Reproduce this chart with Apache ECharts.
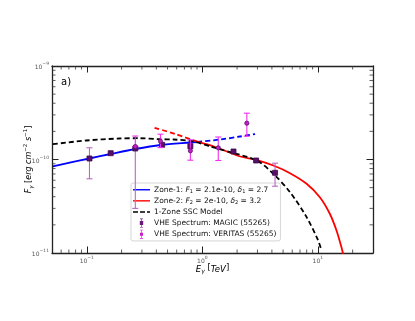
<!DOCTYPE html>
<html>
<head>
<meta charset="utf-8">
<script src="https://cdn.jsdelivr.net/npm/echarts@6/dist/echarts.min.js"></script>
<style>
  html, body { margin: 0; padding: 0; background: #fff; }
  #chart { width: 415px; height: 321px; }
</style>
</head>
<body>
<div id="chart"></div>
<script>
// 曲线数据（E [TeV], F [erg cm^-2 s^-1]）
var zone1Solid = [[0.0509, 8.42e-11], [0.0728, 9.29e-11], [0.1055, 1.025e-10], [0.161, 1.145e-10], [0.263, 1.295e-10],
  [0.434, 1.429e-10], [0.788, 1.52e-10], [0.906, 1.539e-10]]
var zone1Dash = [[0.906, 1.539e-10], [1.43, 1.636e-10], [2.126, 1.762e-10], [2.863, 1.873e-10]]
var zone2Dash = [[0.386, 2.183e-10], [0.585, 1.873e-10], [0.906, 1.55e-10]]
var zone2Solid = [[0.906, 1.55e-10], [1.294, 1.36e-10], [2.126, 1.077e-10], [2.92, 9.93e-11], [4.12, 8.62e-11],
  [5.74, 7.14e-11], [7.99, 5.5e-11], [10.4, 3.95e-11], [12.69, 2.63e-11], [14.5, 1.74e-11], [16.0, 1.15e-11], [16.52, 9.8e-12]]
var sscModel = [[0.0509, 1.458e-10], [0.0986, 1.596e-10], [0.1913, 1.678e-10], [0.2846, 1.689e-10], [0.4233, 1.65e-10],
  [0.566, 1.636e-10], [0.841, 1.558e-10], [1.172, 1.377e-10], [1.744, 1.197e-10], [2.962, 9.76e-11], [4.12, 7.03e-11],
  [5.74, 4.47e-11], [7.99, 2.42e-11], [10.06, 1.36e-11], [10.76, 1.06e-11]]

// 观测点 [E, F, 下误差, 上误差]
var magicPts = [[0.1055, 1.025e-10, 6.22e-11, 1.334e-10], [0.161, 1.168e-10, 1.168e-10, 1.168e-10],
  [0.263, 1.311e-10, 3.0e-11, 1.311e-10], [0.449, 1.436e-10, 1.436e-10, 1.436e-10], [0.788, 1.387e-10, 1.387e-10, 1.387e-10],
  [1.861, 1.218e-10, 1.218e-10, 1.218e-10], [2.92, 9.76e-11, 9.76e-11, 9.76e-11], [4.26, 7.21e-11, 5.18e-11, 9.13e-11]]
var veritasPts = [[0.263, 1.377e-10, 1.377e-10, 1.783e-10], [0.434, 1.569e-10, 1.34e-10, 1.865e-10],
  [0.788, 1.239e-10, 9.83e-11, 1.624e-10], [1.374, 1.334e-10, 9.76e-11, 1.74e-10], [2.428, 2.444e-10, 1.775e-10, 3.128e-10]]

// 刻度
var xMinorTicks = [0.06, 0.07, 0.08, 0.09, 0.2, 0.3, 0.4, 0.5, 0.6, 0.7, 0.8, 0.9, 2, 3, 4, 5, 6, 7, 8, 9, 20]
var yMinorTicks = [2e-11, 3e-11, 4e-11, 5e-11, 6e-11, 7e-11, 8e-11, 9e-11, 2e-10, 3e-10, 4e-10, 5e-10, 6e-10, 7e-10, 8e-10, 9e-10]

var X_MIN = 0.05, X_MAX = 30, Y_MIN = 1e-11, Y_MAX = 1e-9
var FONT = 'DejaVu Sans'

var names = {
  z1: 'Zone-1', z2: 'Zone-2', ssc: '1-Zone SSC Model',
  magic: 'VHE Spectrum: MAGIC (55265)', veritas: 'VHE Spectrum: VERITAS (55265)'
}

// 图例图标（17x9 框）
var ICON_SOLID = 'path://M0,0M0,3.8H17V5.2H0ZM17,9'
var ICON_DASH = 'path://M0,0M0,3.8H5V5.2H0ZM7,3.8H12V5.2H7ZM14,3.8H17V5.2H14ZM17,9'
var ICON_MAGIC = 'path://M0,0M7,0H10V0.6H8.8V2.5H10.2V6.5H8.8V8.4H10V9H7V8.4H8.2V6.5H6.8V2.5H8.2V0.6H7ZM17,9'
var ICON_VERITAS = 'path://M0,0M7,0H10V0.6H8.8V3H10V6H8.8V8.4H10V9H7V8.4H8.2V6H7V3H8.2V0.6H7ZM17,9'

function powLabel (v) {
  var e = Math.round(Math.log10(v))
  return '{b|10}{sup|' + String(e).replace('-', '−') + '}'
}

var tickRich = {
  b: { fontSize: 6, color: '#555', fontFamily: FONT, lineHeight: 9, verticalAlign: 'bottom' },
  sup: { fontSize: 4.5, color: '#555', fontFamily: FONT, lineHeight: 9, verticalAlign: 'top' }
}

// 误差棒 + 标记
function makeErrRender (shape, markColor, markEdge, barColor, size) {
  return function (params, api) {
    var x = api.value(0), y = api.value(1), lo = api.value(2), hi = api.value(3)
    var p = api.coord([x, y])
    var pl = api.coord([x, lo])
    var ph = api.coord([x, hi])
    var kids = []
    var cap = 3
    var bs = { stroke: barColor, lineWidth: 1.1 }
    if (Math.abs(pl[1] - ph[1]) > 1) {
      kids.push({ type: 'line', shape: { x1: p[0], y1: pl[1], x2: p[0], y2: ph[1] }, style: bs })
      kids.push({ type: 'line', shape: { x1: p[0] - cap, y1: pl[1], x2: p[0] + cap, y2: pl[1] }, style: bs })
      kids.push({ type: 'line', shape: { x1: p[0] - cap, y1: ph[1], x2: p[0] + cap, y2: ph[1] }, style: bs })
    }
    if (shape === 'rect') {
      kids.push({ type: 'rect', shape: { x: p[0] - size / 2, y: p[1] - size / 2, width: size, height: size },
        style: { fill: markColor, stroke: markEdge, lineWidth: 0.8 } })
    } else {
      kids.push({ type: 'circle', shape: { cx: p[0], cy: p[1], r: size / 2 },
        style: { fill: markColor, stroke: markEdge, lineWidth: 0.8 } })
    }
    return { type: 'group', children: kids }
  }
}

// 次刻度（四边，向内）
function renderMinor (params, api) {
  var axis = api.value(0), v = api.value(1)
  var L = 3.5
  var s = { stroke: '#333', lineWidth: 0.8 }
  if (axis === 0) {
    var b = api.coord([v, Y_MIN]), t = api.coord([v, Y_MAX])
    return { type: 'group', children: [
      { type: 'line', shape: { x1: b[0], y1: b[1], x2: b[0], y2: b[1] - L }, style: s },
      { type: 'line', shape: { x1: t[0], y1: t[1], x2: t[0], y2: t[1] + L }, style: s }
    ] }
  }
  var l = api.coord([X_MIN, v]), r = api.coord([X_MAX, v])
  return { type: 'group', children: [
    { type: 'line', shape: { x1: l[0], y1: l[1], x2: l[0] + L, y2: l[1] }, style: s },
    { type: 'line', shape: { x1: r[0], y1: r[1], x2: r[0] - L, y2: r[1] }, style: s }
  ] }
}

var minorData = xMinorTicks.map(function (v) { return [0, v] }).concat(yMinorTicks.map(function (v) { return [1, v] }))

function logAxis (pos, min, max, extra) {
  var a = {
    type: 'log', logBase: 10, position: pos, min: min, max: max,
    splitLine: { show: false },
    axisLine: { show: true, onZero: false, lineStyle: { color: '#222', width: 1.3 } },
    axisTick: { show: true, inside: true, length: 6.5, lineStyle: { color: '#222', width: 1 } },
    axisLabel: { show: false }
  }
  for (var k in extra) a[k] = extra[k]
  return a
}

var chart = echarts.init(document.getElementById('chart'))
var option = {
  animation: false,
  backgroundColor: '#fff',
  textStyle: { fontFamily: FONT },
  grid: { left: 52, top: 66, right: 42, bottom: 68 },
  title: {
    text: 'a)', left: 56, top: 72,
    textStyle: { fontSize: 10, fontWeight: 'normal', color: '#000', fontFamily: FONT }
  },
  xAxis: [
    logAxis('bottom', X_MIN, X_MAX, {
      axisLabel: { show: true, margin: 2, showMinLabel: false, showMaxLabel: false, formatter: powLabel, rich: tickRich },
      name: '{i|E}{sub|γ} [{i|TeV}]', nameLocation: 'middle', nameGap: 9, nameMoveOverlap: false,
      nameTextStyle: {
        rich: {
          i: { fontSize: 8.5, fontStyle: 'italic', color: '#000', fontFamily: FONT, lineHeight: 12, verticalAlign: 'bottom' },
          sub: { fontSize: 6, fontStyle: 'italic', color: '#000', fontFamily: FONT, lineHeight: 10, verticalAlign: 'bottom' }
        },
        fontSize: 8.5, color: '#000'
      }
    }),
    logAxis('top', X_MIN, X_MAX, {})
  ],
  yAxis: [
    logAxis('left', Y_MIN, Y_MAX, {
      axisLabel: { show: true, margin: 3, formatter: powLabel, rich: tickRich },
      name: '{i|F}{sub|γ} [{i|erg cm}{sup|−2}{i| s}{sup|−1}]', nameLocation: 'middle', nameGap: 17, nameMoveOverlap: false,
      nameTextStyle: {
        rich: {
          i: { fontSize: 8, fontStyle: 'italic', color: '#000', fontFamily: FONT, lineHeight: 12, verticalAlign: 'middle' },
          sub: { fontSize: 5.5, fontStyle: 'italic', color: '#000', fontFamily: FONT, lineHeight: 12, verticalAlign: 'bottom' },
          sup: { fontSize: 5.5, color: '#000', fontFamily: FONT, lineHeight: 12, verticalAlign: 'top' }
        },
        fontSize: 8, color: '#000'
      }
    }),
    logAxis('right', Y_MIN, Y_MAX, {})
  ],
  legend: {
    left: 131, top: 183, orient: 'vertical',
    backgroundColor: 'rgba(255,255,255,0.92)', borderColor: '#ccc', borderWidth: 0.8, borderRadius: 2,
    padding: [2, 4, 2, 2], itemGap: 1.6, itemWidth: 17, itemHeight: 9,
    data: [
      { name: names.z1, icon: ICON_SOLID, itemStyle: { color: '#0000ff' } },
      { name: names.z2, icon: ICON_SOLID, itemStyle: { color: '#ff0000' } },
      { name: names.ssc, icon: ICON_DASH, itemStyle: { color: '#000' } },
      { name: names.magic, icon: ICON_MAGIC, itemStyle: { color: '#6a1a7e' } },
      { name: names.veritas, icon: ICON_VERITAS, itemStyle: { color: '#d01ad0' } }
    ],
    formatter: function (name) {
      if (name === names.z1) return 'Zone-1: {i|F}{s|1} = 2.1e-10, {i|δ}{s|1} = 2.7'
      if (name === names.z2) return 'Zone-2: {i|F}{s|2} = 2e-10, {i|δ}{s|2} = 3.2'
      return name
    },
    textStyle: {
      fontSize: 7.5, color: '#111', fontFamily: FONT, lineHeight: 9.5, padding: [0, 0, 0, -1],
      rich: {
        i: { fontSize: 7.5, fontStyle: 'italic', color: '#111', fontFamily: FONT, lineHeight: 9.5 },
        s: { fontSize: 5, color: '#111', fontFamily: FONT, lineHeight: 9.5, verticalAlign: 'bottom' }
      }
    }
  },
  series: [
    { name: names.z1, type: 'line', data: zone1Solid, showSymbol: false, symbol: 'none', smooth: 0.3,
      lineStyle: { color: '#0000ff', width: 1.8 }, itemStyle: { color: '#0000ff' }, z: 3 },
    { name: 'z1ext', type: 'line', data: zone1Dash, showSymbol: false, symbol: 'none', smooth: 0.3,
      lineStyle: { color: '#0000ff', width: 1.8, type: [5, 3] }, z: 3 },
    { name: names.z2, type: 'line', data: zone2Solid, showSymbol: false, symbol: 'none', smooth: 0.3,
      lineStyle: { color: '#ff0000', width: 1.8 }, itemStyle: { color: '#ff0000' }, z: 3 },
    { name: 'z2ext', type: 'line', data: zone2Dash, showSymbol: false, symbol: 'none', smooth: 0.3,
      lineStyle: { color: '#ff0000', width: 1.8, type: [5, 3] }, z: 3 },
    { name: names.ssc, type: 'line', data: sscModel, showSymbol: false, symbol: 'none', smooth: 0.3,
      lineStyle: { color: '#000', width: 1.8, type: [5, 3] }, itemStyle: { color: '#000' }, z: 4 },
    { name: names.magic, type: 'custom', data: magicPts, encode: { x: 0, y: 1 }, z: 6,
      itemStyle: { color: '#6a1a7e' },
      renderItem: makeErrRender('rect', '#5a0f6a', '#3a0a4a', '#b968c0', 5) },
    { name: names.veritas, type: 'custom', data: veritasPts, encode: { x: 0, y: 1 }, z: 7,
      itemStyle: { color: '#d01ad0' },
      renderItem: makeErrRender('circle', '#c41ec8', '#5a0f6a', '#ee30ee', 4.2) },
    { name: 'minorTicks', type: 'custom', data: minorData, encode: { x: -1, y: -1 }, silent: true, z: 8,
      renderItem: renderMinor }
  ]
}
chart.setOption(option)
</script>
</body>
</html>
